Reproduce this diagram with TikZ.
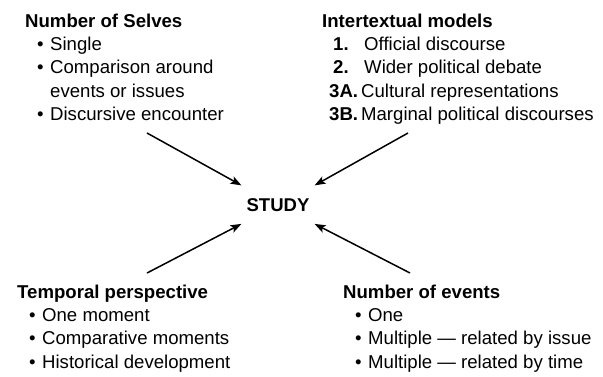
\documentclass[tikz,border=0pt]{standalone}
\usepackage{fontspec}
\setmainfont{Liberation Sans}
\usetikzlibrary{arrows.meta}
\newcommand{\bul}{\hspace*{12pt}\makebox[13pt][l]{•}}
\newcommand{\cont}{\hspace*{25pt}}
\begin{document}
\begin{tikzpicture}[x=1pt,y=-1pt,
  block/.style={anchor=base west,inner sep=0pt,font=\fontsize{18.6}{23.4}\selectfont},
  arr/.style={line width=1.5pt,-{Stealth[length=11pt,width=8pt,inset=2.5pt]}}]
\useasboundingbox (0,0) rectangle (603,376);
\node[block] (selves) at (25,27) {\begin{tabular}[t]{@{}l@{}}
\textbf{Number of Selves}\\
\bul Single\\
\bul Comparison around\\
\cont events or issues\\
\bul Discursive encounter
\end{tabular}};
\node[block] (inter) at (322,27) {\begin{tabular}[t]{@{}l@{}}
\textbf{Intertextual models}\\
\hspace*{11pt}\makebox[31pt][l]{\textbf{1.}}Official discourse\\
\hspace*{11pt}\makebox[31pt][l]{\textbf{2.}}Wider political debate\\
\hspace*{7pt}\textbf{3A.}\hspace{3pt}Cultural representations\\
\hspace*{7pt}\textbf{3B.}\hspace{3pt}Marginal political discourses
\end{tabular}};
\node[block] (temporal) at (17,298) {\begin{tabular}[t]{@{}l@{}}
\textbf{Temporal perspective}\\
\bul One moment\\
\bul Comparative moments\\
\bul Historical development
\end{tabular}};
\node[block] (events) at (343,298) {\begin{tabular}[t]{@{}l@{}}
\textbf{Number of events}\\
\bul One\\
\bul Multiple — related by issue\\
\bul Multiple — related by time
\end{tabular}};
\node[anchor=base,inner xsep=5pt,inner ysep=12.5pt,font=\fontsize{18.5}{22}\selectfont\bfseries] (study) at (278,211) {STUDY};
\coordinate (s1) at (147,133);
\coordinate (s2) at (408,133);
\coordinate (s3) at (147,273);
\coordinate (s4) at (410,273);
\draw[arr] (s1) -- (study.north west);
\draw[arr] (s2) -- (study.north east);
\draw[arr] (s3) -- (study.south west);
\draw[arr] (s4) -- (study.south east);
\end{tikzpicture}
\end{document}
